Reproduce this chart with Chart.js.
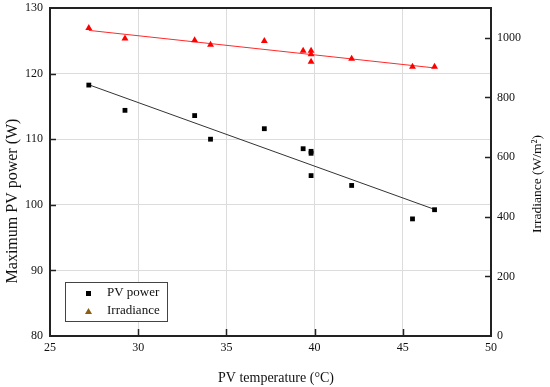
<!DOCTYPE html>
<html>
<head>
<meta charset="utf-8">
<script src="https://cdn.jsdelivr.net/npm/chart.js@4/dist/chart.umd.min.js"></script>
<style>
html,body{margin:0;padding:0;background:#fff;}
canvas{display:block;}
</style>
</head>
<body>
<canvas id="c" width="550" height="387"></canvas>
<script>
// ---- data ----
const temps      = [27.2, 29.25, 33.2, 34.1, 37.15, 39.35, 39.8, 39.8, 39.8, 42.1, 45.55, 46.8];
const pvPower    = [118.25, 114.4, 113.6, 110.0, 111.6, 108.55, 108.15, 107.85, 104.45, 102.95, 97.85, 99.25];
const irrTemps   = [27.2, 29.25, 33.2, 34.1, 37.15, 39.35, 39.8, 39.8, 39.8, 42.1, 45.55, 46.8];
const irradiance = [1033, 998, 992, 977, 989, 957, 957, 945, 920, 930, 903, 903];
const fitX       = [27.2, 46.8];
const powerFit   = [118.3, 99.3];
const irrFit     = [1025, 899];
const xTicks     = [25, 30, 35, 40, 45, 50];
const yTicks     = [80, 90, 100, 110, 120, 130];
const y2Ticks    = [0, 200, 400, 600, 800, 1000];
const legendLabels = ['PV power', 'Irradiance'];
const xTitle  = 'PV temperature (°C)';
const yTitle  = 'Maximum PV power (W)';
const y2Title = 'Irradiance (W/m²)';

const SERIF = '"Liberation Serif", "DejaVu Serif", serif';
const AXIS = '#222';
const GRID = '#dcdcdc';

const pts = (xs, ys) => xs.map((x, i) => ({x: x, y: ys[i]}));

const innerTicks = {
  id: 'innerTicks',
  afterDraw(chart) {
    const ctx = chart.ctx, a = chart.chartArea;
    ctx.save();
    ctx.strokeStyle = AXIS;
    ctx.lineWidth = 2;
    ctx.beginPath();
    ctx.moveTo(a.left - 1, a.top); ctx.lineTo(a.right + 1, a.top);
    ctx.stroke();
    ctx.lineWidth = 1.5;
    const sx = chart.scales.x, sy = chart.scales.y, sy2 = chart.scales.y2;
    xTicks.slice(1, -1).forEach(v => {
      const p = Math.round(sx.getPixelForValue(v)) + 0.5;
      ctx.beginPath(); ctx.moveTo(p, a.bottom); ctx.lineTo(p, a.bottom - 7); ctx.stroke();
    });
    yTicks.slice(1, -1).forEach(v => {
      const p = Math.round(sy.getPixelForValue(v)) + 0.5;
      ctx.beginPath(); ctx.moveTo(a.left, p); ctx.lineTo(a.left + 6, p); ctx.stroke();
    });
    y2Ticks.slice(1).forEach(v => {
      const p = Math.round(sy2.getPixelForValue(v)) + 0.5;
      ctx.beginPath(); ctx.moveTo(a.right, p); ctx.lineTo(a.right - 6, p); ctx.stroke();
    });
    ctx.restore();
  }
};

const titlesAndLegend = {
  id: 'titlesAndLegend',
  afterDraw(chart) {
    const ctx = chart.ctx, a = chart.chartArea;
    ctx.save();
    ctx.fillStyle = '#111';
    ctx.textAlign = 'center';
    ctx.textBaseline = 'middle';
    ctx.font = '14px ' + SERIF;
    ctx.fillText(xTitle, a.left + 226, a.bottom + 42);
    ctx.save();
    ctx.translate(13, a.top + 193);
    ctx.rotate(-Math.PI / 2);
    ctx.font = '16px ' + SERIF;
    ctx.fillText(yTitle, 0, 0);
    ctx.restore();
    ctx.save();
    ctx.translate(a.right + 46, a.top + 176);
    ctx.rotate(-Math.PI / 2);
    ctx.font = '13.5px ' + SERIF;
    ctx.fillText(y2Title, 0, 0);
    ctx.restore();

    const lx = a.left + 15, ly = a.bottom - 54, lw = 102, lh = 39;
    ctx.fillStyle = '#fff';
    ctx.fillRect(lx, ly, lw, lh);
    ctx.strokeStyle = '#444';
    ctx.lineWidth = 1;
    ctx.strokeRect(lx + 0.5, ly + 0.5, lw, lh);
    ctx.fillStyle = '#000';
    ctx.fillRect(lx + 21, ly + 9, 5, 5);
    ctx.fillStyle = '#8c5e14';
    ctx.beginPath();
    ctx.moveTo(lx + 23.5, ly + 26);
    ctx.lineTo(lx + 27, ly + 32);
    ctx.lineTo(lx + 20, ly + 32);
    ctx.closePath();
    ctx.fill();
    ctx.fillStyle = '#111';
    ctx.textAlign = 'left';
    ctx.font = '13px ' + SERIF;
    ctx.fillText(legendLabels[0], lx + 42, ly + 11);
    ctx.fillText(legendLabels[1], lx + 42, ly + 29);
    ctx.restore();
  }
};

const keepTicks = list => scale => {
  scale.ticks = list.map(v => ({value: v}));
};
const plain = v => String(v);
const fitV = w => s => { s.width = w; s.paddingTop = 0; s.paddingBottom = 0; };
const fitH = h => s => { s.height = h; s.paddingLeft = 0; s.paddingRight = 0; };

new Chart(document.getElementById('c'), {
  type: 'scatter',
  data: {
    datasets: [
      {
        label: 'PV power fit', type: 'line', data: pts(fitX, powerFit),
        borderColor: '#333', borderWidth: 1, pointRadius: 0, fill: false, yAxisID: 'y', order: 3
      },
      {
        label: 'Irradiance fit', type: 'line', data: pts(fitX, irrFit),
        borderColor: '#ff2a2a', borderWidth: 1, pointRadius: 0, fill: false, yAxisID: 'y2', order: 3
      },
      {
        label: legendLabels[0], data: pts(temps, pvPower),
        pointStyle: 'rect', pointRadius: 3.4, borderWidth: 0,
        backgroundColor: '#000', borderColor: '#000', yAxisID: 'y', order: 1
      },
      {
        label: legendLabels[1], data: pts(irrTemps, irradiance),
        pointStyle: 'triangle', pointRadius: 4, borderWidth: 0,
        backgroundColor: '#ff0000', borderColor: '#ff0000', yAxisID: 'y2', order: 2
      }
    ]
  },
  options: {
    responsive: false,
    animation: false,
    devicePixelRatio: 1,
    layout: {padding: {top: 8, left: 0, right: 0, bottom: 0}},
    plugins: {legend: {display: false}, tooltip: {enabled: false}},
    scales: {
      x: {
        type: 'linear', min: 25, max: 50,
        afterBuildTicks: keepTicks(xTicks),
        afterFit: fitH(51),
        ticks: {font: {family: SERIF, size: 12}, color: '#111', padding: 5, maxRotation: 0, callback: plain},
        grid: {color: GRID, lineWidth: 1, drawTicks: false},
        border: {color: AXIS, width: 2}
      },
      y: {
        type: 'linear', position: 'left', min: 80, max: 130,
        afterBuildTicks: keepTicks(yTicks),
        afterFit: fitV(50),
        ticks: {font: {family: SERIF, size: 12}, color: '#111', padding: 7, callback: plain},
        grid: {color: GRID, lineWidth: 1, drawTicks: false},
        border: {color: AXIS, width: 2}
      },
      y2: {
        type: 'linear', position: 'right', min: 0, max: 1100,
        afterBuildTicks: keepTicks(y2Ticks),
        afterFit: fitV(59),
        ticks: {font: {family: SERIF, size: 12}, color: '#111', padding: 6, callback: plain},
        grid: {display: false, drawTicks: false},
        border: {color: AXIS, width: 2}
      }
    }
  },
  plugins: [innerTicks, titlesAndLegend]
});
</script>
</body>
</html>
